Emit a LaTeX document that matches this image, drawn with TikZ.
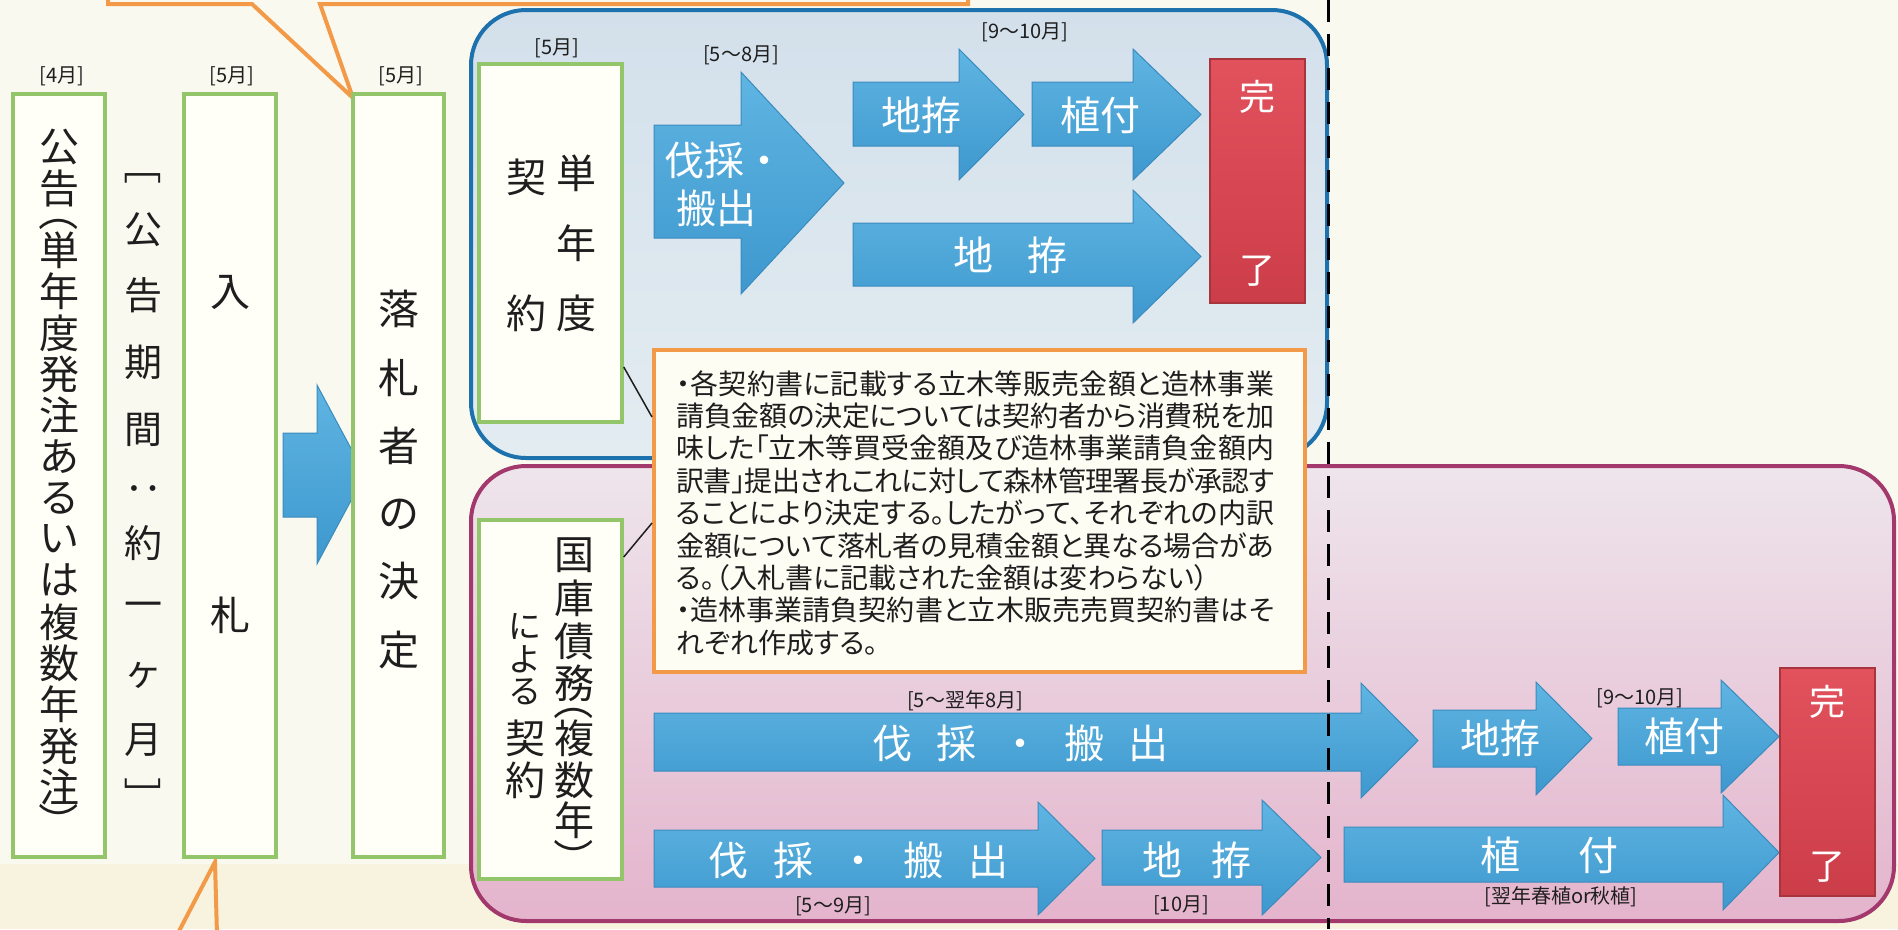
\documentclass[tikz,border=0pt]{standalone}
\usepackage{fontspec}
\setmainfont{Noto Sans CJK JP}
\newfontfamily\jpp{Noto Sans CJK JP}[RawFeature=+palt]
\definecolor{bgc}{HTML}{FAF9EF}
\definecolor{bgcb}{HTML}{F7F3DF}
\definecolor{grn}{HTML}{93C56A}
\definecolor{boxfill}{HTML}{FFFFF7}
\definecolor{notefill}{HTML}{FEFDF4}
\definecolor{orn}{HTML}{F29A48}
\definecolor{bluebd}{HTML}{1D72AD}
\definecolor{bluetop}{HTML}{D3E0EB}
\definecolor{bluebot}{HTML}{E3ECF1}
\definecolor{pinkbd}{HTML}{A3386C}
\definecolor{pinktop}{HTML}{EEE5EC}
\definecolor{pinkbot}{HTML}{E4B4CC}
\definecolor{arrtop}{HTML}{5FB5E2}
\definecolor{arrbot}{HTML}{3E98CE}
\definecolor{arrbd}{HTML}{3A8BBE}
\definecolor{redtop}{HTML}{E2525D}
\definecolor{redbot}{HTML}{CC3D4A}
\definecolor{redbd}{HTML}{A8343D}
\definecolor{ink}{HTML}{1E1E1E}
\newcommand\barrow[7]{\shade[arrowsty] (#1,#4) -- (#2,#4) -- (#2,#6) -- (#3,{(#6+#7)/2}) -- (#2,#7) -- (#2,#5) -- (#1,#5) -- cycle;}
\begin{document}
\begin{tikzpicture}[x=1pt,y=-1pt,
  lbl/.style={inner sep=0pt, text=ink, font=\fontsize{20}{20}\selectfont},
  vch/.style={inner sep=0pt, text=ink, font=\fontsize{40}{40}\selectfont},
  wch/.style={inner sep=0pt, text=white, font=\fontsize{40}{40}\selectfont},
  gbox/.style={draw=grn, line width=3.5pt, fill=boxfill, inner sep=0pt},
  rbox/.style={draw=redbd, line width=2pt, top color=redtop, bottom color=redbot, inner sep=0pt},
  notebox/.style={draw=orn, line width=4pt, fill=notefill, inner sep=0pt},
  arrowsty/.style={top color=arrtop, bottom color=arrbot, draw=arrbd, line width=1pt},
  ptr/.style={draw=ink, line width=1.5pt},
  orncall/.style={draw=orn, line width=4pt, line join=miter},
  dashline/.style={draw=black, line width=3pt, dash pattern=on 22pt off 12pt}
]
\useasboundingbox (0,0) rectangle (1898,929);
\fill[bgc] (0,0) rectangle (1898,929);
\fill[bgcb] (0,864) rectangle (1898,929);

% group frames
\shade[top color=bluetop, bottom color=bluebot, draw=bluebd, line width=4pt, rounded corners=55pt] (471,10) rectangle (1327,458);
\shade[top color=pinktop, bottom color=pinkbot, draw=pinkbd, line width=4pt, rounded corners=55pt] (471,466) rectangle (1894,921);

% callouts (orange)
\coordinate (ctl) at (108,-10);
\coordinate (ctr) at (968,-10);
\coordinate (ctip) at (353,98);
\draw[orncall] (ctl) -- (108,4) -- (252,4) -- (ctip) -- (320,4) -- (968,4) -- (ctr);
\coordinate (cbtip) at (215,862);
\draw[orncall] (177,935) -- (cbtip) -- (217,935);

% note box
\node[notebox, minimum width=651pt, minimum height=322pt] (note) at (979.5,511) {};
\node[anchor=base west, inner sep=0pt, text=ink] (notetext) at (676,394) {\parbox[t]{598pt}{\jpp\fontsize{28}{32.4}\selectfont\XeTeXlinebreaklocale "ja"\XeTeXlinebreakskip=0pt plus 4pt minus 1.5pt\relax\parindent=0pt\tolerance=9999%
・各契約書に記載する立木等販売金額と造林事業\linebreak
請負金額の決定については契約者から消費税を加\linebreak
味した「立木等買受金額及び造林事業請負金額内\linebreak
訳書」提出されこれに対して森林管理署長が承認す\linebreak
ることにより決定する。したがって、それぞれの内訳\linebreak
金額について落札者の見積金額と異なる場合があ\linebreak
る。（入札書に記載された金額は変わらない）\newline
・造林事業請負契約書と立木販売売買契約書はそ\linebreak
れぞれ作成する。}};

% arrows
\barrow{283}{317}{365}{433}{517}{385}{564}
\barrow{654}{741}{844}{125}{238}{72}{294}
\barrow{853}{959}{1024}{82}{146}{49}{180}
\barrow{1032}{1133}{1201}{82}{146}{49}{180}
\barrow{853}{1133}{1201}{223}{286}{190}{323}
\barrow{654}{1361}{1418}{713}{771}{683}{798}
\barrow{1433}{1536}{1592}{710}{767}{682}{795}
\barrow{1618}{1721}{1779}{708}{765}{680}{793}
\barrow{654}{1038}{1095}{830}{887}{802}{915}
\barrow{1102}{1262}{1321}{830}{885}{800}{915}
\barrow{1344}{1723}{1779}{827}{882}{795}{910}

% arrow texts
\node[wch, anchor=west] (t1a) at (664,160) {伐採・};
\node[wch, anchor=west] (t1b) at (676,208) {搬出};
\node[wch] (t2) at (921,115) {地拵};
\node[wch] (t3) at (1100,115) {植付};
\node[wch] (t4) at (1010,255) {地\hspace{34pt}拵};
\node[wch] (t5) at (1020,743) {伐\hspace{24pt}採\hspace{24pt}・\hspace{24pt}搬\hspace{24pt}出};
\node[wch] (t6) at (1500,738) {地拵};
\node[wch] (t7) at (1684,736) {植付};
\node[wch] (t8) at (858,860) {伐\hspace{25pt}採\hspace{25pt}・\hspace{25pt}搬\hspace{25pt}出};
\node[wch] (t9) at (1197,860) {地\hspace{29pt}拵};
\node[wch] (t10) at (1549,855) {植\hspace{58pt}付};

% red boxes
\node[rbox, minimum width=95pt, minimum height=244pt] (red1) at (1257.5,181) {};
\node[rbox, minimum width=95pt, minimum height=228pt] (red2) at (1827.5,782) {};
\node[wch, font=\fontsize{36}{36}\selectfont] (k1) at (red1.center |- 0,97) {完};
\node[wch, font=\fontsize{36}{36}\selectfont] (r1) at (red1.center |- 0,271) {了};
\node[wch, font=\fontsize{36}{36}\selectfont] (k2) at (red2.center |- 0,702) {完};
\node[wch, font=\fontsize{36}{36}\selectfont] (r2) at (red2.center |- 0,867) {了};

% green boxes
\node[gbox, minimum width=92pt, minimum height=763pt] (box1) at (59,475.5) {};
\node[gbox, minimum width=92pt, minimum height=763pt] (box3) at (230,475.5) {};
\node[gbox, minimum width=91pt, minimum height=763pt] (box4) at (398.5,475.5) {};
\node[gbox, minimum width=143pt, minimum height=358pt] (box5) at (550.5,243) {};
\node[gbox, minimum width=143pt, minimum height=359pt] (box6) at (550.5,699.5) {};

% vertical texts (brackets turned for vertical writing)
\foreach \c/\yy/\rr [count=\i] in {公/147/0,告/188/0,\jpp （/220/-90,単/250/0,年/291/0,度/333/0,発/374/0,注/415/0,あ/457/0,る/498/0,い/539/0,は/580/0,複/622/0,数/663/0,年/704/0,発/746/0,注/787/0,\jpp ）/814/-90}
  \node[vch, rotate=\rr] (a\i) at (59,\yy) {\c};
\foreach \c/\yy/\rr [count=\i] in {\jpp ［/174/-90,公/230/0,告/295/0,期/362/0,間/430/0,\jpp ：/488/-90,約/543/0,一/610/0,ヶ/675/0,月/740/0,\jpp ］/788/-90}
  \node[vch, font=\fontsize{38}{38}\selectfont, rotate=\rr] (p\i) at (143,\yy) {\c};
\node[vch] (n1) at (230,292) {入};
\node[vch] (n2) at (230,615) {札};
\foreach \c/\yy [count=\i] in {落/309,札/378,者/446,の/514,決/581,定/650}
  \node[vch, font=\fontsize{41}{41}\selectfont] (d\i) at (399,\yy) {\c};
\foreach \c/\yy [count=\i] in {単/173,年/243,度/313}
  \node[vch] (s\i) at (576,\yy) {\c};
\foreach \c/\yy [count=\i] in {契/177,約/313}
  \node[vch] (q\i) at (526,\yy) {\c};
\foreach \c/\yy/\rr [count=\i] in {国/555/0,庫/598/0,債/641/0,務/683/0,\jpp （/709/-90,複/738/0,数/780/0,年/820/0,\jpp ）/850/-90}
  \node[vch, rotate=\rr] (m\i) at (574,\yy) {\c};
\foreach \c/\yy [count=\i] in {に/626,よ/659,る/692}
  \node[vch, font=\fontsize{33}{33}\selectfont] (e\i) at (525,\yy) {\c};
\foreach \c/\yy [count=\i] in {契/738,約/780}
  \node[vch] (f\i) at (525,\yy) {\c};

% month labels
\node[lbl] (l1) at (62,76) {[4月]};
\node[lbl] (l2) at (232,76) {[5月]};
\node[lbl] (l3) at (401,76) {[5月]};
\node[lbl] (l4) at (557,48) {[5月]};
\node[lbl] (l5) at (741,55) {[5～8月]};
\node[lbl] (l6) at (1025,32) {[9～10月]};
\node[lbl] (l7) at (965,701) {[5～翌年8月]};
\node[lbl] (l8) at (1640,698) {[9～10月]};
\node[lbl] (l9) at (833,906) {[5～9月]};
\node[lbl] (l10) at (1181,905) {[10月]};
\node[lbl] (l11) at (1561,897) {[翌年春植or秋植]};

% pointer lines to note
\coordinate (pa) at (623,367);
\coordinate (pb) at (654,417);
\coordinate (pc) at (622,557);
\coordinate (pd) at (654,523);
\draw[ptr] (box5.east |- pa) -- (note.west |- pb);
\draw[ptr] (box6.east |- pc) -- (note.west |- pd);

% dashed divider
\coordinate (dtop) at (1328,0);
\coordinate (dbot) at (1328,929);
\draw[dashline] (dtop) -- (dbot);
\end{tikzpicture}
\end{document}
